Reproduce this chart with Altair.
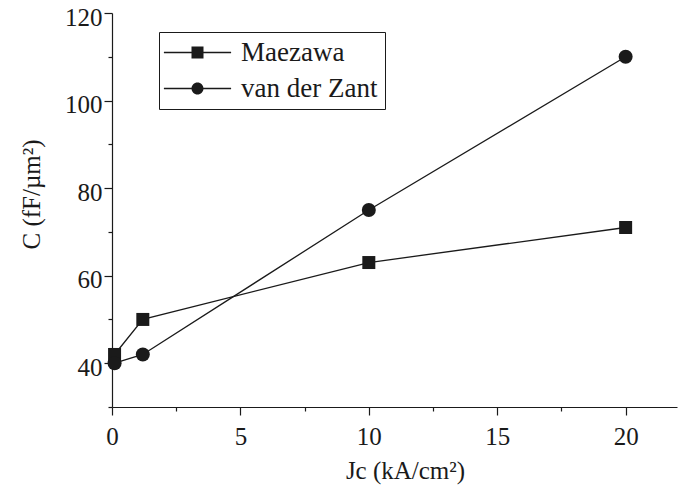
import altair as alt
import pandas as pd

series_names = ["Maezawa", "van der Zant"]
jc_maezawa = [0.1, 1.2, 10, 20]
c_maezawa = [42, 50, 63, 71]
jc_zant = [0.1, 1.2, 10, 20]
c_zant = [40, 42, 75, 110]
x_major = [0, 5, 10, 15, 20]
x_minor = [2.5, 7.5, 12.5, 17.5]
y_major = [40, 60, 80, 100, 120]
y_minor = [30, 50, 70, 90, 110]

df = pd.DataFrame({
    "jc": jc_maezawa + jc_zant,
    "c": c_maezawa + c_zant,
    "series": [series_names[0]] * len(jc_maezawa) + [series_names[1]] * len(jc_zant),
})

FONT = "Liberation Serif, Times New Roman, serif"
INK = "#1a1a1a"

# legend glyphs: a thin bar (the line) with the marker in the middle, as filled shapes
BAR = "M-5.6,-0.11H-0.97V0.11H-5.6Z M0.97,-0.11H5.6V0.11H0.97Z "
SQ_PATH = BAR + "M-1,-1H1V1H-1Z"
CI_PATH = BAR + "M1,0A1,1,0,1,1,-1,0A1,1,0,1,1,1,0Z"

xs = alt.Scale(domain=[0, 22], nice=False, zero=False)
ys = alt.Scale(domain=[30, 120], nice=False, zero=False)

common = dict(domainColor=INK, domainWidth=1.2, tickColor=INK, tickWidth=1.2,
              grid=False, labelFont=FONT, titleFont=FONT, labelColor=INK,
              titleColor=INK)

x_axis_major = alt.Axis(values=x_major, tickSize=8, labelFontSize=25, labelPadding=9,
                        format="d", title="Jc (kA/cm²)", titleFontSize=25,
                        titleFontWeight="normal", titleX=293, titleY=71,
                        titleBaseline="alphabetic", titleAlign="center",
                        orient="bottom", labelFlush=False, **common)
x_axis_minor = alt.Axis(values=x_minor, tickSize=4, labels=False, domain=False,
                        title=None, orient="bottom", grid=False, tickColor=INK,
                        tickWidth=1.2)
y_axis_major = alt.Axis(values=y_major, tickSize=8, labelFontSize=25, labelPadding=2,
                        labelOffset=4, format="d", title="C (fF/µm²)", titleFontSize=25,
                        titleFontWeight="normal", titleAngle=270, titleX=-73,
                        titleY=181, titleBaseline="alphabetic", titleAlign="center",
                        orient="left", labelFlush=False, **common)
y_axis_minor = alt.Axis(values=y_minor, tickSize=4, labels=False, domain=False,
                        title=None, orient="left", grid=False, tickColor=INK,
                        tickWidth=1.2)

base = alt.Chart(df)

lines = base.mark_line(color=INK, strokeWidth=1.3).encode(
    x=alt.X("jc:Q", scale=xs, axis=x_axis_major),
    y=alt.Y("c:Q", scale=ys, axis=y_axis_major),
    detail="series:N",
)

squares = base.transform_filter(
    alt.datum.series == series_names[0]
).mark_square(size=169, color=INK, opacity=1).encode(
    x=alt.X("jc:Q", scale=xs, axis=x_axis_minor),
    y=alt.Y("c:Q", scale=ys, axis=y_axis_minor),
)

circles = base.transform_filter(
    alt.datum.series == series_names[1]
).mark_circle(size=196, color=INK, opacity=1).encode(
    x=alt.X("jc:Q", scale=xs, axis=None),
    y=alt.Y("c:Q", scale=ys, axis=None),
)

legend_layer = base.mark_point(
    filled=True, color=INK, opacity=0
).encode(
    x=alt.X("jc:Q", scale=xs, axis=None),
    y=alt.Y("c:Q", scale=ys, axis=None),
    shape=alt.Shape(
        "series:N",
        scale=alt.Scale(domain=series_names, range=[SQ_PATH, CI_PATH]),
        legend=alt.Legend(
            title=None, orient="none", legendX=47, legendY=19,
            strokeColor=INK, padding=7, symbolSize=144, symbolStrokeWidth=0,
            symbolFillColor=INK, symbolOpacity=1,
            symbolOffset=18, labelOffset=30, rowPadding=8,
            labelFont=FONT, labelFontSize=27, labelColor=INK,
        ),
    ),
)

chart = alt.layer(lines, squares, circles, legend_layer).resolve_axis(
    x="independent", y="independent"
).properties(
    width=565, height=394,
    autosize=alt.AutoSizeParams(type="none"),
    padding={"left": 112, "top": 13, "right": 6, "bottom": 82},
).configure_view(stroke=None)

chart.save("out.html", embed_options={"renderer": "svg", "actions": False})
